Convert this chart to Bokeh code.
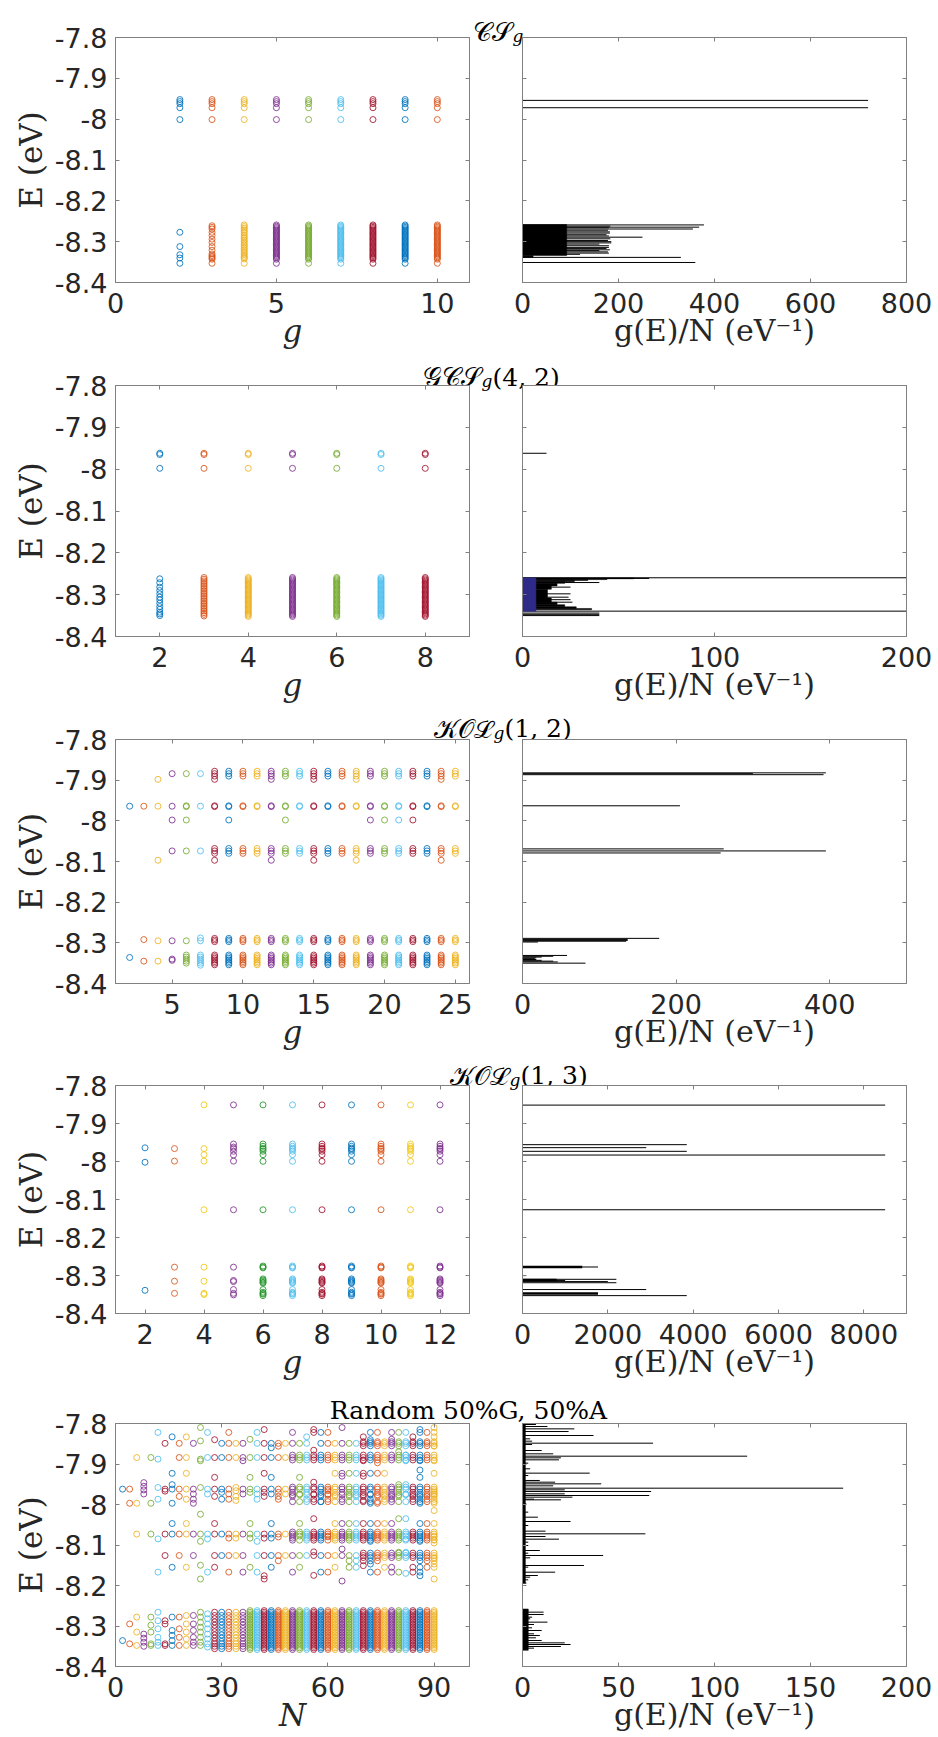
from bokeh.plotting import figure
from bokeh.layouts import column, row
from bokeh.models import (Range1d, LinearAxis, FixedTicker, CustomJSTickFormatter,
                          Label, ColumnDataSource)
from bokeh.embed import file_html
from bokeh.resources import INLINE

# ------------------------------------------------------------------ data
MATLAB = ["#0072BD", "#D95319", "#EDB120", "#7E2F8E", "#77AC30", "#4DBEEE", "#A2142F"]
MATLAB_B = ["#0072BD", "#D95319", "#F2C811", "#7E2F8E", "#23962A", "#4DBEEE", "#A2142F"]
E_TICKS = [-8.4, -8.3, -8.2, -8.1, -8.0, -7.9, -7.8]

# ---- panel 1 : CS_g
cs_g = [2, 3, 4, 5, 6, 7, 8, 9, 10]
cs_upper = [-7.952, -7.957, -7.962, -7.972, -8.001]
cs_low_g2 = [-8.277, -8.312, -8.332, -8.340, -8.353]
cs_low_g3 = [-8.261, -8.265, -8.269, -8.277, -8.285, -8.294, -8.302, -8.312, -8.321,
             -8.330, -8.334, -8.337, -8.340, -8.343, -8.353]
cs_low_g4 = [-8.259, -8.263, -8.267, -8.271, -8.275, -8.279, -8.284, -8.288, -8.292,
             -8.296, -8.300, -8.304, -8.308, -8.312, -8.316, -8.320, -8.324, -8.328,
             -8.332, -8.336, -8.339, -8.342, -8.353]
cs_low_dense = [-8.259, -8.262, -8.265, -8.268, -8.271, -8.274, -8.277, -8.280, -8.283,
                -8.286, -8.289, -8.292, -8.295, -8.298, -8.301, -8.304, -8.307, -8.310,
                -8.313, -8.316, -8.319, -8.322, -8.325, -8.328, -8.331, -8.334, -8.337,
                -8.340, -8.343, -8.353]
cs_xticks = [0, 5, 10]
cs_dos_E = [-7.954, -7.972, -8.259, -8.2645, -8.269, -8.279, -8.289, -8.303, -8.314,
            -8.322, -8.328, -8.3385, -8.351, -8.262, -8.266, -8.272, -8.276, -8.283,
            -8.286, -8.293, -8.297, -8.300, -8.306, -8.310, -8.317, -8.320, -8.325, -8.331]
cs_dos_val = [720, 720, 378, 368, 355, 182, 250, 185, 180, 160, 180, 330, 360, 183,
              180, 178, 182, 175, 180, 183, 178, 185, 160, 180, 175, 182, 178, 120]
cs_blk_lo = [-8.334, -8.3385]
cs_blk_hi = [-8.258, -8.334]
cs_blk_val = [92, 22]
cs_dos_xticks = [0, 200, 400, 600, 800]

# ---- panel 2 : GCS_g(4,2)
gcs_g = [2, 3, 4, 5, 6, 7, 8]
gcs_upper = [-7.962, -7.965, -7.998]
gcs_low_g2 = [-8.262, -8.2715, -8.282, -8.290, -8.298, -8.306, -8.3125, -8.3205,
              -8.3285, -8.335, -8.342, -8.346, -8.350]
gcs_low_g3 = [-8.259, -8.263, -8.267, -8.271, -8.275, -8.279, -8.283, -8.287, -8.291,
              -8.295, -8.299, -8.303, -8.307, -8.311, -8.315, -8.319, -8.323, -8.327,
              -8.331, -8.335, -8.339, -8.343, -8.347, -8.351]
gcs_low_dense = [-8.259, -8.262, -8.265, -8.268, -8.271, -8.274, -8.277, -8.280, -8.283,
                 -8.286, -8.289, -8.292, -8.295, -8.298, -8.301, -8.304, -8.307, -8.310,
                 -8.313, -8.316, -8.319, -8.322, -8.325, -8.328, -8.331, -8.334, -8.337,
                 -8.340, -8.343, -8.346, -8.349, -8.352]
gcs_xticks = [2, 4, 6, 8]
gcs_dos_E = [-7.962, -8.2596, -8.3394, -8.344, -8.347, -8.350, -8.271, -8.282,
             -8.298, -8.306, -8.312, -8.318, -8.2612]
gcs_dos_val = [12.5, 200, 200, 40, 40, 40, 40, 25, 25, 24, 25, 26, 66]
gcs_c_lo = [-8.2620, -8.2640, -8.2660, -8.2690, -8.2730, -8.2790, -8.2870, -8.3080,
            -8.3180, -8.3240, -8.3290, -8.3330, -8.3360]
gcs_c_hi = [-8.2600, -8.2620, -8.2640, -8.2660, -8.2690, -8.2730, -8.2790, -8.2870,
            -8.3080, -8.3180, -8.3240, -8.3290, -8.3330]
gcs_c_val = [58, 44, 34, 27, 22, 18, 15, 13, 15, 18, 22, 28, 36]
gcs_navy_lo = [-8.3394]
gcs_navy_hi = [-8.2596]
gcs_navy_val = [7]
gcs_dos_xticks = [0, 100, 200]

# ---- panel 3 : KOL_g(1,2)
kol12_g = list(range(2, 26))
kol12_sparse = {
    2: [-7.964, -8.336],
    3: [-7.964, -8.292, -8.345],
    4: [-7.898, -7.964, -8.097, -8.295, -8.345],
    5: [-7.884, -7.964, -7.998, -8.074, -8.295, -8.340, -8.343],
    6: [-7.884, -7.963, -7.965, -7.998, -8.074, -8.295, -8.330, -8.335, -8.340, -8.345, -8.350],
    7: [-7.884, -7.964, -8.074, -8.288, -8.295, -8.330, -8.335, -8.340, -8.345, -8.350, -8.355],
}
kol12_base = [-7.878, -7.884, -7.890, -7.963, -7.965, -8.068, -8.074, -8.080, -8.289,
              -8.293, -8.297, -8.330, -8.334, -8.338, -8.342, -8.346, -8.350, -8.354]
kol12_gB = [8, 12, 15, 18, 24]          # also at -7.898 and -8.097
kol12_levB = [-7.898, -8.097]
kol12_gD = [9, 13, 19, 20, 21, 22]      # also at -7.998
kol12_levD = [-7.998]
kol12_xticks = [5, 10, 15, 20, 25]
kol12_dos_E = [-7.882, -7.8865, -7.884, -7.963, -8.069, -8.074, -8.079, -8.289, -8.292,
               -8.294, -8.296, -8.298, -8.331, -8.333, -8.335, -8.337, -8.339, -8.341,
               -8.343, -8.345, -8.347, -8.350]
kol12_dos_val = [395, 392, 300, 205, 262, 395, 258, 178, 137, 137, 135, 20, 58, 40, 25,
                 18, 16, 18, 25, 40, 46, 82]
kol12_dos_xticks = [0, 200, 400]

# ---- panel 4 : KOL_g(1,3)
kol13_g = list(range(2, 13))
kol13_sparse = {
    2: [-7.964, -8.002, -8.339],
    3: [-7.966, -7.999, -8.278, -8.315, -8.347],
    4: [-7.851, -7.966, -7.982, -7.999, -8.127, -8.278, -8.315, -8.347, -8.350],
    5: [-7.851, -7.954, -7.962, -7.966, -7.973, -7.983, -7.999, -8.127, -8.278, -8.313,
        -8.316, -8.337, -8.347, -8.351],
}
kol13_base = [-7.851, -7.954, -7.960, -7.965, -7.968, -7.973, -7.982, -7.9995, -8.127,
              -8.275, -8.278, -8.280, -8.309, -8.312, -8.315, -8.318, -8.320, -8.337,
              -8.344, -8.347, -8.349, -8.353]
kol13_xticks = [2, 4, 6, 8, 10, 12]
kol13_thin_E = [-7.8516, -7.9557, -7.9636, -7.9732, -7.983, -8.127, -8.2776, -8.3003,
                -8.310, -8.313, -8.316, -8.319, -8.337, -8.353]
kol13_thin_val = [8500, 3850, 2900, 3850, 8500, 8500, 1770, 80, 2200, 1000, 2000, 2200,
                  2900, 3850]
kol13_thick_E = [-8.2776, -8.312, -8.3475]
kol13_thick_val = [1400, 800, 1770]
kol13_dos_xticks = [0, 2000, 4000, 6000, 8000]

# ---- panel 5 : Random 50%G, 50%A
rand_N = list(range(2, 91, 2))
rand_upper = [
    [-7.962],
    [-7.962, -7.997],
    [-7.884, -7.997, -8.073],
    [-7.946, -7.955, -7.964, -7.974],
    [-7.884, -7.997, -8.073],
    [-7.822, -7.888, -7.958, -7.987, -8.085, -8.167],
    [-7.849, -7.962, -7.967, -8.073, -8.126],
    [-7.833, -7.923, -7.951, -7.962, -7.997, -8.047, -8.073, -8.155],
    [-7.849, -7.884, -7.962, -7.980, -8.073, -8.126],
    [-7.833, -7.884, -7.923, -7.962, -7.987, -8.047, -8.073, -8.155],
    [-7.849, -7.962, -7.974, -7.987, -7.997, -8.073, -8.126],
    [-7.810, -7.843, -7.888, -7.892, -7.958, -8.024, -8.073, -8.091, -8.150, -8.184],
    [-7.822, -7.884, -7.962, -7.974, -8.073, -8.085, -8.167],
    [-7.840, -7.884, -7.933, -7.962, -7.980, -8.047, -8.073, -8.126, -8.155],
    [-7.849, -7.884, -7.962, -7.970, -7.987, -8.073, -8.126],
    [-7.822, -7.849, -7.884, -7.962, -7.974, -7.987, -8.073, -8.083, -8.126, -8.167],
    [-7.849, -7.884, -7.958, -7.966, -7.980, -7.990, -8.073, -8.083, -8.126],
    [-7.849, -7.884, -7.892, -7.962, -7.974, -8.073, -8.126, -8.167],
    [-7.839, -7.884, -7.933, -7.962, -7.970, -8.047, -8.073, -8.083, -8.155],
    [-7.822, -7.849, -7.884, -7.962, -7.974, -7.987, -8.073, -8.091, -8.126, -8.167],
    [-7.815, -7.849, -7.884, -7.923, -7.962, -7.970, -7.980, -8.073, -8.083, -8.126, -8.176, -8.184],
    [-7.849, -7.860, -7.884, -7.933, -7.962, -7.974, -8.047, -8.073, -8.083, -8.126, -8.155],
    [-7.849, -7.856, -7.884, -7.962, -7.970, -7.980, -7.987, -8.073, -8.080, -8.126, -8.139],
    [-7.849, -7.884, -7.962, -7.974, -8.073, -8.126],
    [-7.822, -7.849, -7.884, -7.962, -7.970, -7.980, -8.073, -8.083, -8.126, -8.167],
    [-7.849, -7.884, -7.933, -7.962, -7.974, -8.047, -8.073, -8.126, -8.155],
    [-7.833, -7.849, -7.884, -7.962, -7.970, -7.987, -8.073, -8.083, -8.126],
    [-7.815, -7.822, -7.866, -7.884, -7.945, -7.962, -7.974, -7.987, -8.035, -8.073, -8.083, -8.117, -8.126, -8.175],
    [-7.822, -7.849, -7.884, -7.962, -7.970, -7.980, -7.993, -8.073, -8.083, -8.126, -8.167],
    [-7.822, -7.849, -7.884, -7.962, -7.966, -7.974, -7.987, -8.073, -8.080, -8.126, -8.167],
    [-7.849, -7.884, -7.923, -7.962, -7.970, -7.980, -8.047, -8.073, -8.083, -8.126, -8.155],
    [-7.810, -7.849, -7.884, -7.923, -7.930, -7.962, -7.970, -7.987, -8.047, -8.073, -8.083, -8.110, -8.126, -8.189],
    [-7.849, -7.884, -7.923, -7.962, -7.970, -7.980, -8.047, -8.073, -8.083, -8.126, -8.139, -8.155],
    [-7.849, -7.884, -7.923, -7.962, -7.970, -7.980, -8.047, -8.073, -8.083, -8.126, -8.139, -8.155],
    [-7.833, -7.849, -7.884, -7.892, -7.923, -7.930, -7.962, -7.970, -7.980, -7.990, -8.047, -8.073, -8.083, -8.126, -8.139, -8.151],
    [-7.822, -7.840, -7.849, -7.884, -7.923, -7.962, -7.974, -7.987, -7.997, -8.047, -8.073, -8.083, -8.091, -8.126, -8.139, -8.147, -8.167],
    [-7.822, -7.849, -7.884, -7.897, -7.923, -7.962, -7.970, -7.980, -7.997, -8.047, -8.073, -8.083, -8.126, -8.139, -8.167],
    [-7.849, -7.884, -7.923, -7.962, -7.970, -7.980, -7.987, -8.047, -8.073, -8.083, -8.126, -8.155],
    [-7.822, -7.839, -7.849, -7.884, -7.962, -7.970, -7.980, -7.987, -8.047, -8.073, -8.083, -8.126, -8.155, -8.167],
    [-7.822, -7.849, -7.870, -7.884, -7.951, -7.962, -7.970, -7.980, -8.035, -8.073, -8.083, -8.118, -8.126, -8.167],
    [-7.822, -7.849, -7.878, -7.884, -7.892, -7.951, -7.962, -7.974, -8.035, -8.073, -8.085, -8.118, -8.126, -8.170],
    [-7.833, -7.849, -7.884, -7.962, -7.970, -7.980, -7.987, -8.073, -8.083, -8.126, -8.155, -8.167],
    [-7.815, -7.822, -7.849, -7.884, -7.892, -7.915, -7.933, -7.962, -7.970, -7.980, -7.987, -7.997, -8.047, -8.073, -8.083, -8.091, -8.126, -8.139, -8.155, -8.167, -8.176],
    [-7.822, -7.849, -7.884, -7.962, -7.970, -7.980, -7.987, -8.047, -8.073, -8.083, -8.126, -8.139, -8.155],
    [-7.810, -7.822, -7.833, -7.849, -7.856, -7.884, -7.892, -7.923, -7.962, -7.966, -7.970, -7.974, -7.980, -7.987, -7.997, -8.015, -8.047, -8.073, -8.080, -8.087, -8.095, -8.126, -8.133, -8.139, -8.147, -8.155, -8.184],
]
# extra levels filling the bright bands of the larger clusters
rand_band_from = 50
rand_band_extra = [-7.878, -7.890, -7.957, -7.976, -7.993, -8.068, -8.078, -8.088]
rand_band2_from = 70
rand_band2_extra = [-7.845, -7.855, -8.120, -8.131]
rand_low_sparse = [
    [-8.336],
    [-8.295, -8.344],
    [-8.278, -8.315, -8.348],
    [-8.320, -8.330, -8.340, -8.350],
    [-8.278, -8.298, -8.315, -8.344, -8.348],
    [-8.266, -8.287, -8.307, -8.328, -8.340, -8.348],
    [-8.287, -8.295, -8.344, -8.348],
    [-8.278, -8.311, -8.323, -8.336, -8.348],
    [-8.278, -8.307, -8.328, -8.348],
    [-8.274, -8.295, -8.315, -8.332, -8.348],
    [-8.274, -8.295, -8.311, -8.328, -8.340, -8.348],
    [-8.266, -8.278, -8.291, -8.303, -8.315, -8.328, -8.340, -8.348],
    [-8.270, -8.282, -8.295, -8.307, -8.320, -8.332, -8.344, -8.352],
]
rand_low_mid = [-8.266, -8.274, -8.282, -8.290, -8.298, -8.306, -8.314, -8.322, -8.330,
                -8.338, -8.344, -8.350, -8.356]
rand_low_dense = [-8.262, -8.266, -8.270, -8.274, -8.278, -8.282, -8.286, -8.290, -8.294,
                  -8.298, -8.302, -8.306, -8.310, -8.314, -8.318, -8.322, -8.326, -8.330,
                  -8.334, -8.338, -8.342, -8.346, -8.350, -8.354, -8.358]
rand_mid_until = 36
rand_xticks = [0, 30, 60, 90]
rand_dos_E = [-7.8025, -7.8074, -7.8132, -7.8198, -7.8296, -7.8379, -7.8436, -7.8486,
              -7.8519, -7.8667, -7.8749, -7.8807, -7.8848, -7.8897, -7.8979, -7.9119,
              -7.9226, -7.9284, -7.9407, -7.9449, -7.9490, -7.9539, -7.9597, -7.9638,
              -7.9679, -7.9737, -7.9778, -7.9819, -7.9868, -7.9885, -7.9984, -8.0189,
              -8.0313, -8.0420, -8.0519, -8.0658, -8.0724, -8.0790, -8.0856, -8.0930,
              -8.1012, -8.1136, -8.1202, -8.1259, -8.1317, -8.1506, -8.1547, -8.1671,
              -8.1753, -8.1794, -8.1860, -8.1942, -8.2617, -8.2658, -8.2716, -8.2782,
              -8.2823, -8.2905, -8.2963, -8.3045, -8.3111, -8.3193, -8.3235, -8.3292,
              -8.3358, -8.3416, -8.3457, -8.3506, -8.3547]
rand_dos_val = [7, 13, 27, 24, 37, 4, 5, 68, 5, 10, 16, 117, 20, 19, 3, 4,
                35, 3, 9, 17, 41, 16, 167, 22, 67, 22, 66, 26, 6, 20, 2, 3,
                8, 25, 3, 12, 64, 12, 19, 3, 3, 9, 3, 42, 4, 32, 3, 17,
                8, 4, 3, 2, 3, 11, 11, 5, 4, 13, 6, 5, 10, 6, 9, 7,
                10, 22, 25, 20, 6]
rand_blk_lo = [-8.194, -8.36]
rand_blk_hi = [-7.80, -8.258]
rand_blk_val = [1.5, 3]
rand_dos_xticks = [0, 50, 100, 150, 200]

# ------------------------------------------------------------------ styles
TICK_FONT = "DejaVu Sans"
SERIF = "DejaVu Serif"
AX_COL = "#808080"
TXT_COL = "#262626"
L_BL, L_FW, L_BR = 107, 354, 10
R_BL, R_FW, R_BR = 43, 384, 26
TOTAL_W = L_BL + L_FW + L_BR + R_BL + R_FW + R_BR
TOP_B = 18
STRIP_H = 40


def style_axis(ax, ticks):
    ax.ticker = FixedTicker(ticks=ticks)
    ax.major_tick_in = 4
    ax.major_tick_out = 0
    ax.minor_tick_line_color = None
    ax.major_tick_line_color = AX_COL
    ax.axis_line_color = AX_COL
    ax.major_label_text_font = TICK_FONT
    ax.major_label_text_font_size = "27px"
    ax.major_label_text_color = TXT_COL


def blank_axis(ticks):
    ax = LinearAxis()
    style_axis(ax, ticks)
    ax.formatter = CustomJSTickFormatter(code="return '';")
    ax.major_label_text_font_size = "0px"
    ax.major_label_standoff = 0
    return ax


def make_fig(xr, xticks, xlabel, fh, bb, left, xlabel_italic):
    p = figure(frame_width=L_FW if left else R_FW, frame_height=fh,
               x_range=Range1d(*xr), y_range=Range1d(-8.4, -7.8),
               min_border_left=L_BL if left else R_BL,
               min_border_right=L_BR if left else R_BR,
               min_border_top=TOP_B, min_border_bottom=bb,
               output_backend="svg", toolbar_location=None)
    p.border_fill_color = None
    p.background_fill_color = "white"
    p.xgrid.grid_line_color = None
    p.ygrid.grid_line_color = None
    p.outline_line_color = AX_COL
    p.outline_line_width = 1
    xa = p.xaxis[0]
    ya = p.yaxis[0]
    style_axis(xa, xticks)
    style_axis(ya, E_TICKS)
    xa.major_label_standoff = 10
    xa.axis_label = xlabel
    xa.axis_label_text_font = SERIF
    xa.axis_label_text_font_size = "31px" if left else "30px"
    xa.axis_label_text_font_style = "italic" if xlabel_italic else "normal"
    xa.axis_label_text_color = TXT_COL
    xa.axis_label_standoff = -3
    if left:
        ya.formatter = CustomJSTickFormatter(code="return Number(tick.toFixed(1)).toString();")
        ya.major_label_standoff = 8
        ya.axis_label = "E (eV)"
        ya.axis_label_text_font = SERIF
        ya.axis_label_text_font_size = "31px"
        ya.axis_label_text_font_style = "normal"
        ya.axis_label_text_color = TXT_COL
        ya.axis_label_standoff = 3
    else:
        ya.formatter = CustomJSTickFormatter(code="return '';")
        ya.major_label_text_font_size = "0px"
        ya.major_label_standoff = 0
    p.add_layout(blank_axis(xticks), "above")
    p.add_layout(blank_axis(E_TICKS), "right")
    return p


def scatter_groups(p, xs, groups, palette=MATLAB):
    X, Y, C = [], [], []
    for i, (g, levels) in enumerate(zip(xs, groups)):
        for e in levels:
            X.append(g)
            Y.append(e)
            C.append(palette[i % 7])
    src = ColumnDataSource(dict(x=X, y=Y, c=C))
    p.scatter("x", "y", source=src, marker="circle", size=6, fill_color=None,
              line_color="c", line_width=1, line_alpha=0.85)


def dos_lines(p, E, val, width=1.0, color="black"):
    src = ColumnDataSource(dict(x0=[0] * len(E), x1=val, y=E))
    p.segment(x0="x0", y0="y", x1="x1", y1="y", source=src, line_color=color,
              line_width=width)


def dos_blocks(p, lo, hi, val, color="black"):
    src = ColumnDataSource(dict(l=[0] * len(lo), r=val, b=lo, t=hi))
    p.quad(left="l", right="r", bottom="b", top="t", source=src, fill_color=color,
           line_color=color, line_width=0.5)


def strip(base_y, main, x_sub, rest=None, center=False):
    p = figure(width=TOTAL_W, height=STRIP_H, x_range=Range1d(0, TOTAL_W),
               y_range=Range1d(0, STRIP_H), x_axis_type=None, y_axis_type=None,
               min_border=0, output_backend="svg", toolbar_location=None)
    p.outline_line_color = None
    p.border_fill_color = None
    p.background_fill_color = None
    if center:
        p.add_layout(Label(x=x_sub, y=base_y, text=main, text_font=SERIF,
                           text_font_size="25px", text_color="black",
                           text_baseline="alphabetic", text_align="center"))
        return p
    p.add_layout(Label(x=x_sub, y=base_y, text=main, text_font=SERIF,
                       text_font_size="26px", text_color="black",
                       text_baseline="alphabetic", text_align="right"))
    p.add_layout(Label(x=x_sub + 1, y=base_y - 4, text="g", text_font=SERIF,
                       text_font_size="17px", text_font_style="italic",
                       text_color="black", text_baseline="alphabetic",
                       text_align="left"))
    if rest:
        p.add_layout(Label(x=x_sub + 12, y=base_y, text=rest, text_font=SERIF,
                           text_font_size="25px", text_color="black",
                           text_baseline="alphabetic", text_align="left"))
    return p


def shifted(item, dy):
    item.styles = {"margin-top": "%dpx" % dy}
    return item


DOS_LABEL = "g(E)/N (eV\u207b\u00b9)"
rows = []

# row 1
t1 = strip(17, "\U0001D49E\U0001D4AE", 503)
l1 = make_fig((0, 11), cs_xticks, "g", 245, 70, True, True)
scatter_groups(l1, cs_g, [cs_upper + lo for lo in
                          [cs_low_g2, cs_low_g3, cs_low_g4] + [cs_low_dense] * 6])
r1 = make_fig((0, 800), cs_dos_xticks, DOS_LABEL, 245, 70, False, False)
dos_lines(r1, cs_dos_E, cs_dos_val)
dos_blocks(r1, cs_blk_lo, cs_blk_hi, cs_blk_val)
rows += [t1, shifted(row(l1, r1), -29)]

# row 2
t2 = strip(15.5, "\U0001D4A2\U0001D49E\U0001D4AE", 472, "(4, 2)")
l2 = make_fig((1, 9), gcs_xticks, "g", 251, 70, True, True)
scatter_groups(l2, gcs_g, [gcs_upper + lo for lo in
                           [gcs_low_g2, gcs_low_g3] + [gcs_low_dense] * 5])
r2 = make_fig((0, 200), gcs_dos_xticks, DOS_LABEL, 251, 70, False, False)
dos_lines(r2, gcs_dos_E, gcs_dos_val)
dos_blocks(r2, gcs_c_lo, gcs_c_hi, gcs_c_val)
dos_blocks(r2, gcs_navy_lo, gcs_navy_hi, gcs_navy_val, color="#2E2A88")
rows += [t2, shifted(row(l2, r2), -25)]

# row 3
t3 = strip(18, "\U0001D4A6\U0001D4AA\u2112", 484, "(1, 2)")
l3 = make_fig((1, 26), kol12_xticks, "g", 244, 69, True, True)
kol12_groups = []
for g in kol12_g:
    if g in kol12_sparse:
        kol12_groups.append(kol12_sparse[g])
    else:
        lv = list(kol12_base)
        if g in kol12_gB:
            lv += kol12_levB
        if g in kol12_gD:
            lv += kol12_levD
        kol12_groups.append(lv)
scatter_groups(l3, kol12_g, kol12_groups)
r3 = make_fig((0, 500), kol12_dos_xticks, DOS_LABEL, 244, 69, False, False)
dos_lines(r3, kol12_dos_E, kol12_dos_val)
rows += [t3, shifted(row(l3, r3), -25)]

# row 4
t4 = strip(17, "\U0001D4A6\U0001D4AA\u2112", 500, "(1, 3)")
l4 = make_fig((1, 13), kol13_xticks, "g", 228, 73, True, True)
scatter_groups(l4, kol13_g, [kol13_sparse.get(g, kol13_base) for g in kol13_g], MATLAB_B)
r4 = make_fig((0, 9000), kol13_dos_xticks, DOS_LABEL, 228, 73, False, False)
dos_lines(r4, kol13_thin_E, kol13_thin_val)
dos_lines(r4, kol13_thick_E, kol13_thick_val, width=2.5)
rows += [t4, shifted(row(l4, r4), -25)]

# row 5
t5 = strip(16, "Random 50%G, 50%A", 460, center=True)
l5 = make_fig((0, 100), rand_xticks, "N", 243, 62, True, True)
rand_groups = []
for i, n in enumerate(rand_N):
    if i < len(rand_low_sparse):
        low = rand_low_sparse[i]
    elif n <= rand_mid_until:
        low = rand_low_mid
    else:
        low = rand_low_dense
    up = list(rand_upper[i])
    if n >= rand_band_from:
        up += rand_band_extra
    if n >= rand_band2_from:
        up += rand_band2_extra
    rand_groups.append(up + low)
scatter_groups(l5, rand_N, rand_groups)
r5 = make_fig((0, 200), rand_dos_xticks, DOS_LABEL, 243, 62, False, False)
dos_blocks(r5, rand_blk_lo, rand_blk_hi, rand_blk_val)
dos_lines(r5, rand_dos_E, rand_dos_val)
rows += [t5, shifted(row(l5, r5), -21)]

layout = column(*rows)
layout.styles = {"margin-left": "8px", "margin-top": "8px"}
open("out.html", "w").write(file_html(layout, INLINE))
